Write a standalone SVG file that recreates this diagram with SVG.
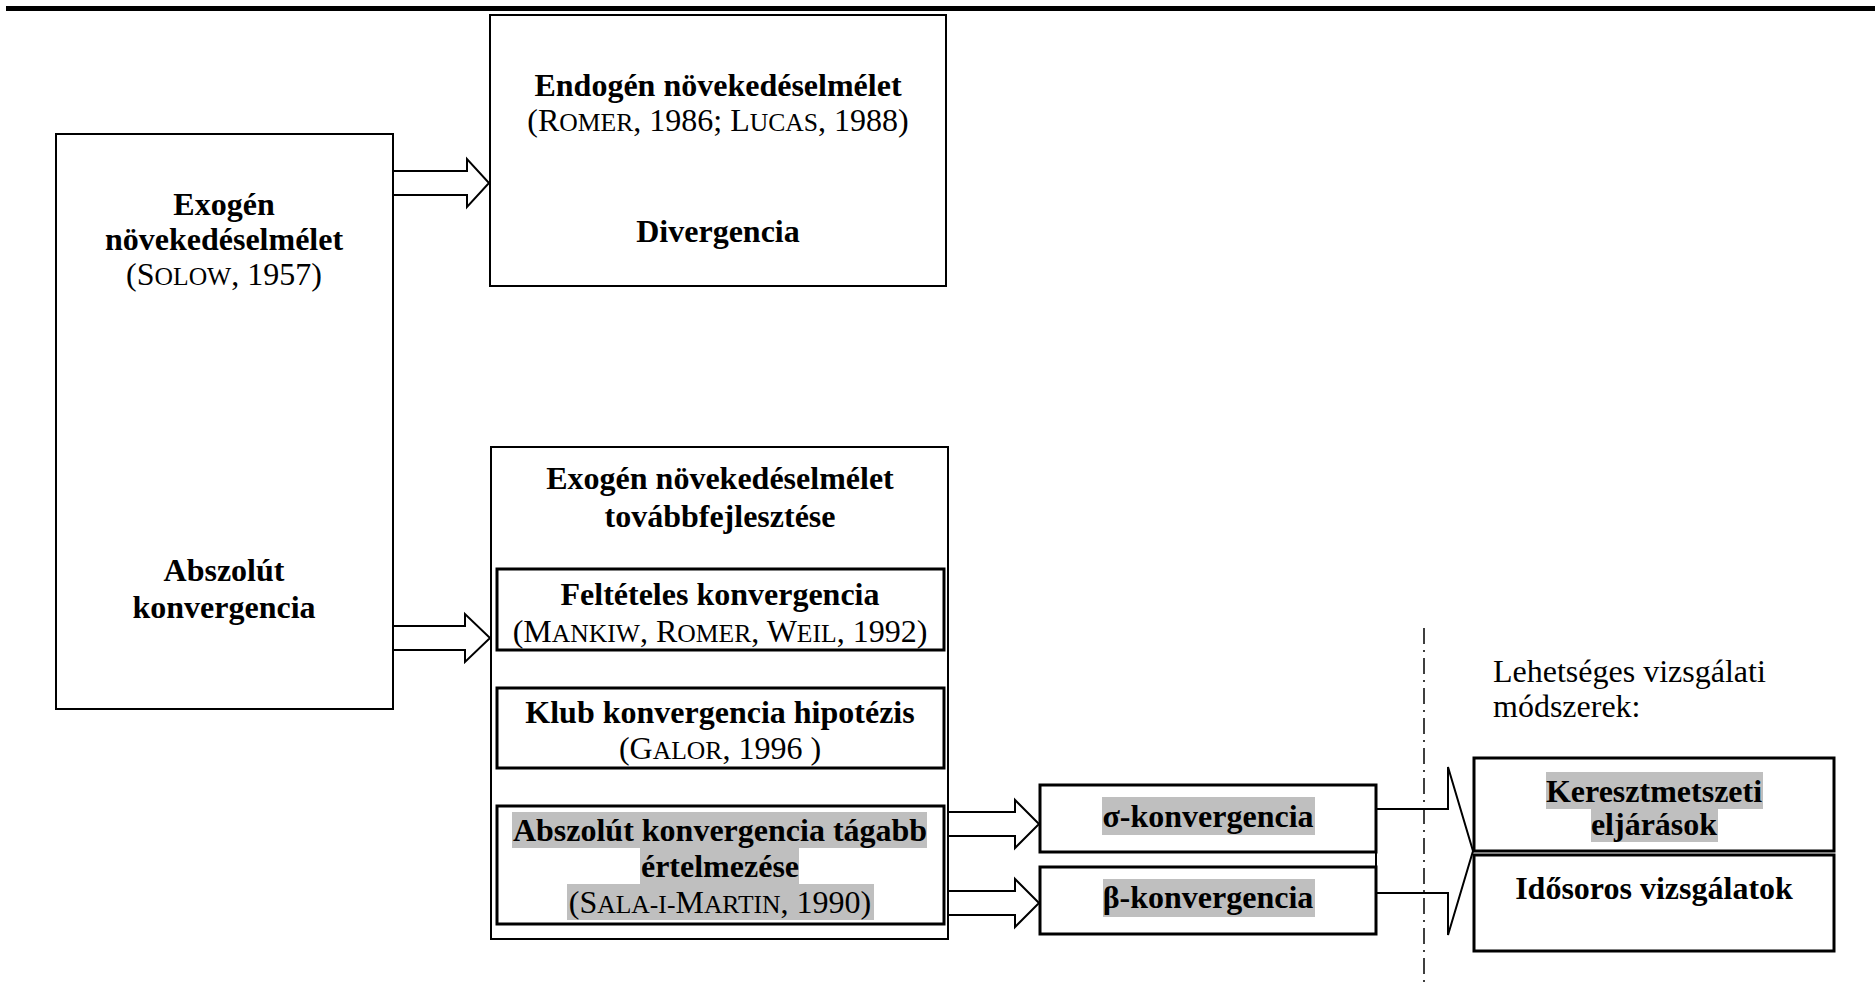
<svg xmlns="http://www.w3.org/2000/svg" width="1875" height="993" viewBox="0 0 1875 993">
<style>
text{font-family:"Liberation Serif","Times New Roman",serif;font-size:32px;fill:#000;text-anchor:middle}
.b{font-weight:bold}
.l{text-anchor:start}
.sc{font-size:25.6px}
.box{fill:#fff;stroke:#000;stroke-width:2}
.ibox{fill:#fff;stroke:#000;stroke-width:3}
.hl{fill:#bfbfbf}
.arr{fill:#fff;stroke:#000;stroke-width:2;stroke-linejoin:miter}
</style>
<rect x="0" y="0" width="1875" height="993" fill="#fff"/>
<rect x="6" y="6" width="1869" height="5" fill="#000"/>

<g id="connectors">
<polygon class="arr" points="393,171 467,171 467,159 489,183 467,207 467,195 393,195"/>
<polygon class="arr" points="393,626 465,626 465,614 490,638 465,662 465,650 393,650"/>
<polygon class="arr" points="943,812 1015,812 1015,800 1039,824 1015,848 1015,836 943,836"/>
<polygon class="arr" points="943,891 1015,891 1015,879 1039,903 1015,927 1015,915 943,915"/>
<polygon class="arr" points="1376,809 1448,809 1448,767 1473,851 1448,935 1448,893 1376,893"/>
<line x1="1424" y1="628" x2="1424" y2="985" stroke="#000" stroke-width="1.5" stroke-dasharray="16 6 2 6"/>
</g>

<g id="exogen">
<rect class="box" x="56" y="134" width="337" height="575"/>
<text class="b" x="224" y="215">Exogén</text>
<text class="b" x="224" y="250">növekedéselmélet</text>
<text x="224" y="285">(S<tspan class="sc">OLOW</tspan>, 1957)</text>
<text class="b" x="224" y="581">Abszolút</text>
<text class="b" x="224" y="618">konvergencia</text>
</g>

<g id="endogen">
<rect class="box" x="490" y="15" width="456" height="271"/>
<text class="b" x="718" y="96">Endogén növekedéselmélet</text>
<text x="718" y="131">(R<tspan class="sc">OMER</tspan>, 1986; L<tspan class="sc">UCAS</tspan>, 1988)</text>
<text class="b" x="718" y="242">Divergencia</text>
</g>

<g id="tovabbfejlesztes">
<rect class="box" x="491" y="447" width="457" height="492"/>
<text class="b" x="720" y="489">Exogén növekedéselmélet</text>
<text class="b" x="720" y="527">továbbfejlesztése</text>
</g>

<g id="felteteles">
<rect class="ibox" x="497" y="569" width="447" height="81"/>
<text class="b" x="720" y="605">Feltételes konvergencia</text>
<text x="720" y="642">(M<tspan class="sc">ANKIW</tspan>, R<tspan class="sc">OMER</tspan>, W<tspan class="sc">EIL</tspan>, 1992)</text>
</g>

<g id="klub">
<rect class="ibox" x="497" y="688" width="447" height="80"/>
<text class="b" x="720" y="723">Klub konvergencia hipotézis</text>
<text x="720" y="759">(G<tspan class="sc">ALOR</tspan>, 1996 )</text>
</g>

<g id="abszolut-tagabb">
<rect class="ibox" x="497" y="806" width="447" height="118"/>
<rect class="hl" x="512" y="812" width="415" height="36"/>
<rect class="hl" x="640" y="848" width="159" height="36"/>
<rect class="hl" x="567" y="884" width="307" height="36"/>
<text class="b" x="720" y="841">Abszolút konvergencia tágabb</text>
<text class="b" x="720" y="877">értelmezése</text>
<text x="720" y="913">(S<tspan class="sc">ALA-I-</tspan>M<tspan class="sc">ARTIN</tspan>, 1990)</text>
</g>

<g id="sigma">
<rect class="ibox" x="1040" y="785" width="336" height="67"/>
<rect class="hl" x="1102" y="797" width="213" height="38"/>
<text class="b" x="1208" y="827">σ-konvergencia</text>
</g>

<g id="beta">
<rect class="ibox" x="1040" y="867" width="336" height="67"/>
<rect class="hl" x="1103" y="879" width="212" height="38"/>
<text class="b" x="1208" y="908">β-konvergencia</text>
</g>

<g id="modszerek">
<text class="l" x="1493" y="682">Lehetséges vizsgálati</text>
<text class="l" x="1493" y="717">módszerek:</text>
</g>

<g id="keresztmetszeti">
<rect class="ibox" x="1474" y="758" width="360" height="93"/>
<rect class="hl" x="1546" y="772" width="217" height="37"/>
<rect class="hl" x="1591" y="809" width="127" height="33"/>
<text class="b" x="1654" y="802">Keresztmetszeti</text>
<text class="b" x="1654" y="835">eljárások</text>
</g>

<g id="idosoros">
<rect class="ibox" x="1474" y="855" width="360" height="96"/>
<text class="b" x="1654" y="899">Idősoros vizsgálatok</text>
</g>
</svg>
